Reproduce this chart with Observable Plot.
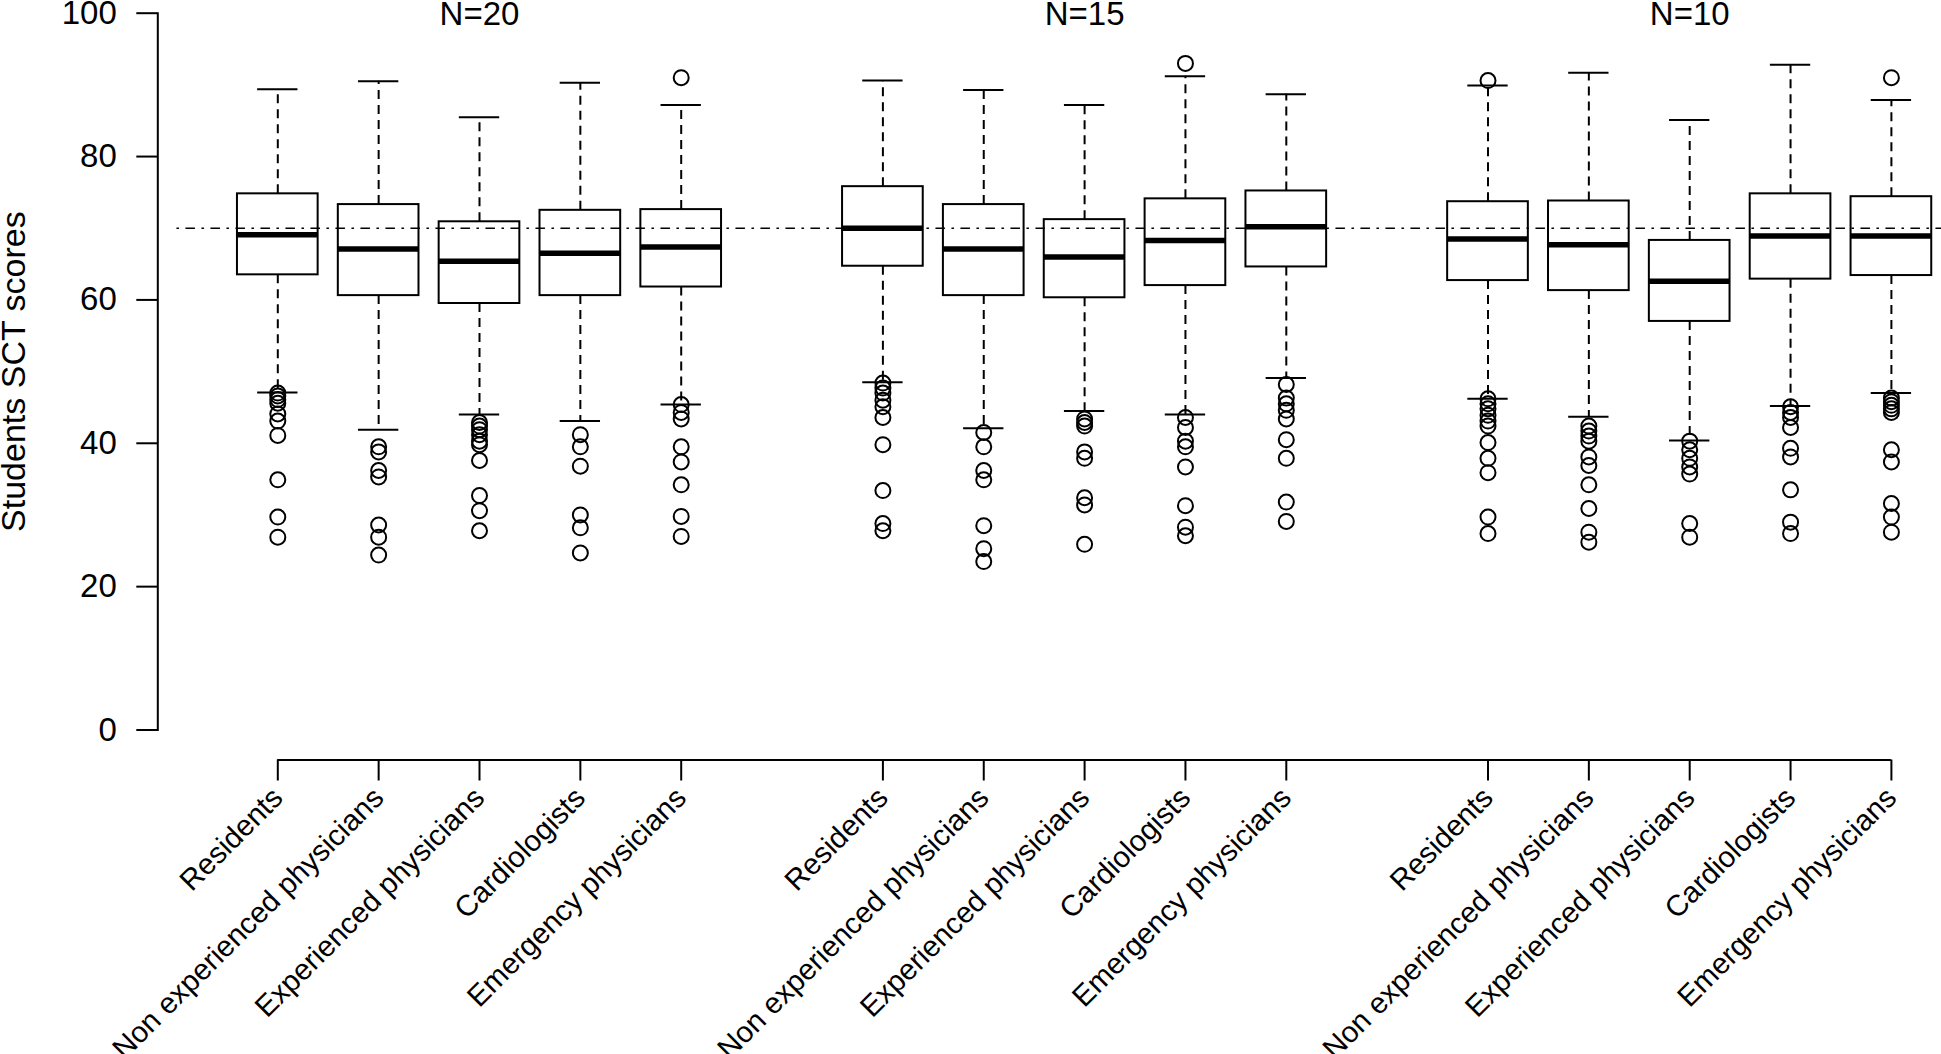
<!DOCTYPE html>
<html><head><meta charset="utf-8">
<script src="https://cdn.jsdelivr.net/npm/d3@7"></script>
<script src="https://cdn.jsdelivr.net/npm/@observablehq/plot@0.6"></script>
<style>body{margin:0;background:#fff;} svg{display:block;}</style>
</head><body><div id="chart"></div>
<script>
const groupTitles = ["N=20", "N=15", "N=10"];
const categories = ["Residents", "Non experienced physicians", "Experienced physicians", "Cardiologists", "Emergency physicians"];
const yTicks = [0, 20, 40, 60, 80, 100];
const yLabel = "Students SCT scores";
const referenceScore = 70;

// box statistics, in order: group N=20 (5 boxes), N=15 (5), N=10 (5)
const whiskerLow  = [47.1, 41.9, 44.0, 43.1, 45.4,  48.5, 42.1, 44.5, 44.0, 49.1,  46.2, 43.7, 40.4, 45.2, 47.0];
const quartile1   = [63.5, 60.6, 59.5, 60.6, 61.8,  64.7, 60.6, 60.3, 62.0, 64.6,  62.7, 61.3, 57.0, 62.9, 63.4];
const medians     = [69.1, 67.1, 65.4, 66.5, 67.4,  70.0, 67.1, 66.0, 68.3, 70.2,  68.5, 67.7, 62.6, 68.9, 68.9];
const quartile3   = [74.8, 73.3, 70.9, 72.5, 72.6,  75.8, 73.3, 71.2, 74.1, 75.2,  73.7, 73.8, 68.3, 74.8, 74.4];
const whiskerHigh = [89.4, 90.5, 85.5, 90.3, 87.2,  90.6, 89.3, 87.2, 91.2, 88.7,  89.9, 91.7, 85.1, 92.8, 87.9];
const outliers = [
  [47.0, 46.6, 46.1, 45.6, 44.1, 43.1, 41.1, 34.9, 29.7, 26.9],
  [39.5, 38.8, 36.2, 35.3, 28.6, 26.9, 24.4],
  [42.9, 42.4, 41.9, 41.2, 40.3, 39.8, 37.6, 32.7, 30.6, 27.8],
  [41.2, 39.5, 36.8, 30.0, 28.2, 24.7],
  [91.0, 45.4, 44.3, 43.4, 39.5, 37.4, 34.2, 29.8, 27.0],
  [48.4, 47.7, 47.0, 46.0, 45.1, 43.6, 39.8, 33.4, 28.8, 27.8],
  [41.5, 39.5, 36.2, 34.9, 28.5, 25.3, 23.5],
  [43.4, 42.9, 42.4, 38.8, 37.9, 32.4, 31.4, 25.9],
  [93.0, 43.6, 42.2, 40.3, 39.5, 36.7, 31.3, 28.3, 27.1],
  [48.2, 46.3, 45.5, 44.6, 43.4, 40.5, 37.9, 31.8, 29.1],
  [90.6, 46.2, 45.5, 44.8, 43.9, 43.1, 42.4, 40.1, 37.9, 35.9, 29.7, 27.4],
  [42.4, 41.7, 41.0, 40.3, 38.1, 36.9, 34.2, 30.9, 27.6, 26.2],
  [40.3, 39.1, 37.9, 36.7, 35.7, 28.8, 26.9],
  [45.1, 44.3, 43.6, 42.2, 39.3, 38.1, 33.5, 29.0, 27.4],
  [91.0, 46.3, 45.8, 45.3, 44.8, 44.3, 39.1, 37.4, 31.6, 29.7, 27.6]
];

// build table: boxes at positions 1-5, 7-11, 13-17 (R boxplot "at")
const boxes = [];
groupTitles.forEach((g, gi) => categories.forEach((c, ci) => {
  const i = gi * categories.length + ci;
  boxes.push({group: g, category: c, pos: gi * 6 + ci + 1,
    low: whiskerLow[i], q1: quartile1[i], med: medians[i], q3: quartile3[i], high: whiskerHigh[i]});
}));
const outlierPts = boxes.flatMap((b, i) => outliers[i].map(v => ({pos: b.pos, v})));
const groupCenters = groupTitles.map((g, gi) => ({title: g, pos: gi * 6 + 3}));
const positions = boxes.map(b => b.pos);
const labelAt = new Map(boxes.map(b => [b.pos, b.category]));
const half = 0.4, cap = 0.2;

const font = "'Liberation Sans', Arial, Helvetica, sans-serif";
const chart = Plot.plot({
  width: 1941, height: 1054,
  marginLeft: 157.3, marginTop: 12.7, marginBottom: 324.5, marginRight: 40,
  x: {domain: [1, 17], range: [277.3, 1890.9]},
  y: {domain: [0, 100]},
  style: {fontFamily: font, fontSize: "33px", background: "#fff", color: "#000"},
  marks: [
    Plot.frame({anchor: "left", strokeWidth: 2}),
    Plot.axisY({ticks: yTicks, tickSize: 21, tickPadding: 20, fontSize: 33, strokeWidth: 2, label: null}),
    Plot.text([yLabel], {frameAnchor: "left", dx: -144, rotate: -90, textAnchor: "middle", lineAnchor: "middle", fontSize: 34, text: d => d}),
    Plot.ruleY([0], {x1: d3.min(positions), x2: d3.max(positions), dy: 30, strokeWidth: 2}),
    Plot.axisX({ticks: positions, tickFormat: d => labelAt.get(d), tickSize: 21, tickPadding: 12,
      tickRotate: -45, dy: 30, fontSize: 29.5, strokeWidth: 2, label: null}),
    Plot.text(groupCenters, {x: "pos", text: "title", frameAnchor: "top", lineAnchor: "middle", dy: 1, fontSize: 33}),
    // whiskers
    Plot.ruleX(boxes, {x: "pos", y1: "q3", y2: "high", strokeWidth: 2, strokeDasharray: "9,6"}),
    Plot.ruleX(boxes, {x: "pos", y1: "q1", y2: "low", strokeWidth: 2, strokeDasharray: "9,6"}),
    Plot.ruleY(boxes, {y: "high", x1: d => d.pos - cap, x2: d => d.pos + cap, strokeWidth: 2}),
    Plot.ruleY(boxes, {y: "low", x1: d => d.pos - cap, x2: d => d.pos + cap, strokeWidth: 2}),
    // boxes
    Plot.rect(boxes, {x1: d => d.pos - half, x2: d => d.pos + half, y1: "q1", y2: "q3", fill: "white", stroke: "black", strokeWidth: 2}),
    Plot.ruleY([referenceScore], {y: d => d, x1: 0, x2: 18, strokeWidth: 1.6, strokeDasharray: "2.5,6.5,9.5,6.5"}),
    Plot.ruleY(boxes, {y: "med", x1: d => d.pos - half, x2: d => d.pos + half, strokeWidth: 5.5}),
    Plot.dot(outlierPts, {x: "pos", y: "v", r: 7.5, stroke: "black", strokeWidth: 2, fill: "none"})
  ]
});
document.getElementById("chart").append(chart);
</script>
</body></html>
